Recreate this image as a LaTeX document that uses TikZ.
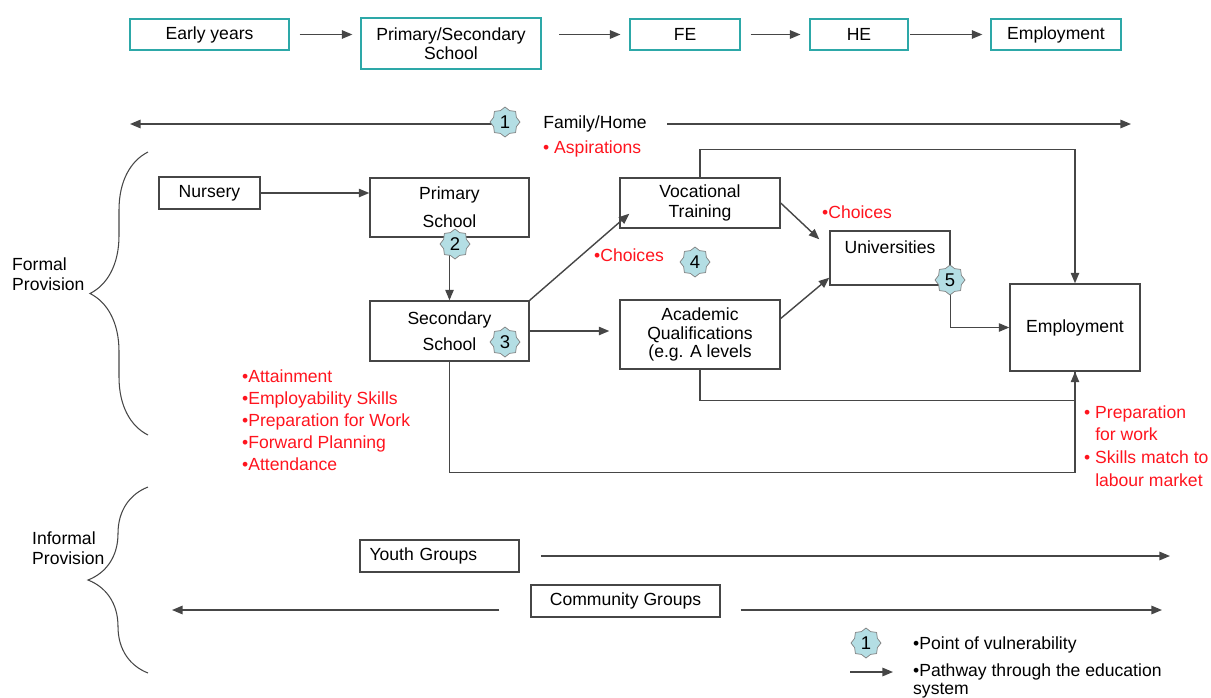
\documentclass[tikz,border=0pt]{standalone}
\usepackage{fontspec}
\setmainfont{Liberation Sans}
\usetikzlibrary{arrows.meta,shapes.geometric,decorations.pathreplacing}
\definecolor{tealbox}{RGB}{45,168,168}
\definecolor{starfill}{RGB}{180,222,228}
\definecolor{linegray}{RGB}{70,70,70}
\definecolor{notered}{RGB}{255,20,30}
\tikzset{
topbox/.style={draw=tealbox, line width=0.8pt, align=center, minimum height=0.62cm, font=\fontsize{10}{11}\selectfont},
box/.style={draw=linegray, line width=0.8pt, align=center, font=\fontsize{10}{11}\selectfont},
arr/.style={draw=linegray, line width=0.8pt, -{Triangle[length=6pt,width=4.8pt]}},
plain/.style={draw=linegray, line width=0.8pt},
vuln/.style={star, star points=8, star point ratio=1.22, draw=gray, fill=starfill, minimum size=0.6cm, inner sep=0pt, font=\fontsize{10.5}{11}\selectfont},
note/.style={text=notered, align=left, font=\fontsize{10}{12.5}\selectfont},
lbl/.style={align=left, font=\fontsize{10}{11.5}\selectfont},
curly/.style={draw=linegray, line width=0.6pt, decorate, decoration={brace, amplitude=#1}}
}

\begin{document}
\begin{tikzpicture}[x=0.02cm, y=-0.02cm]
\useasboundingbox (0,0) rectangle (1211,697);

%top row
\node[topbox, minimum width=3.18cm] (early) at (209.5,34.5) {Early years};
\node[topbox, minimum width=3.6cm, minimum height=1.02cm] (school) at (451,43.5) {Primary/Secondary\\School};
\node[topbox, minimum width=2.2cm] (fe) at (685,34.5) {FE};
\node[topbox, minimum width=1.96cm] (he) at (859,34.5) {HE};
\node[topbox, minimum width=2.6cm] (work) at (1056,34.5) {Employment};
\draw[arr, shorten <=5.7pt, shorten >=4.5pt] (early) -- (early -| school.west);
\draw[arr, shorten <=10pt, shorten >=5pt] (school.east |- fe) -- (fe);
\draw[arr, shorten <=5.7pt, shorten >=5pt] (fe) -- (he);
\draw[arr, shorten <=1pt, shorten >=4.5pt] (he) -- (work);

%family / home
\node[lbl] (family) at (595,124) {Family/Home};
\coordinate (famL) at (130,124);
\coordinate (famR) at (1131,124);
\draw[arr, shorten <=18pt] (family) -- (famL);
\draw[arr, shorten <=8pt] (family) -- (famR);
\node[note, anchor=west] (aspire) at (537,149) {• Aspirations};

%braces
\coordinate (formalB) at (148,435);
\coordinate (formalT) at (148,152);
\draw[curly=1.16cm] (formalB) -- (formalT);
\node[lbl, anchor=west] (formal) at (6,274) {Formal\\Provision};
\coordinate (informalB) at (148,673);
\coordinate (informalT) at (148,487);
\draw[curly=1.2cm] (informalB) -- (informalT);
\node[lbl, anchor=west] (informal) at (26,548.5) {Informal\\Provision};

%formal provision
\node[box, minimum width=2.02cm, minimum height=0.64cm] (nursery) at (209.5,193) {Nursery};
\node[box, minimum width=3.18cm, minimum height=1.18cm] (primary) at (449.5,207.5) {Primary\\[5pt]School};
\node[box, minimum width=3.18cm, minimum height=1.2cm] (secondary) at (449.5,331) {Secondary\\[3.7pt]School};
\node[box, minimum width=3.2cm, minimum height=1cm] (voc) at (700,203) {Vocational\\Training};
\node[box, minimum width=3.2cm, minimum height=1.38cm, font=\fontsize{10}{10.3}\selectfont] (acad) at (700,334.5) {Academic\\Qualifications\\(e.g. A levels};
\node[box, minimum width=2.4cm, minimum height=1.08cm] (uni) at (890,258) {};
\node[lbl] (unitext) at (890,247) {Universities};
\node[box, minimum width=2.6cm, minimum height=1.74cm] (emp) at (1075,327.5) {Employment};

\draw[arr] (nursery) -- (nursery -| primary.west);
\draw[arr] (primary.south) -- (secondary.north);
\draw[arr] (secondary.north east) -- ([shift={(10,-15)}]voc.south west);
\draw[arr, shorten >=5.7pt] (secondary.east) -- (secondary.east -| acad.west);
\draw[arr] (voc.east) -- ([shift={(-10,9)}]uni.north west);
\draw[arr] ([shift={(0,-16)}]acad.east) -- ([shift={(0,-8)}]uni.south west);
\draw[arr] (uni.south east) |- (emp.west);
\draw[arr] (voc.north) -- ++(0,-28) -| (emp.north);
\draw[plain] (acad.south) -- ++(0,31) -| (emp.south);
\draw[arr] (secondary.south) -- ++(0,111) -| (emp.south);

%points of vulnerability
\node[vuln] (s1) at (505,122) {1};
\node[vuln] (s2) at (455,244) {2};
\node[vuln] (s3) at (505,342) {3};
\node[vuln] (s4) at (695,262) {4};
\node[vuln] (s5) at (950,280) {5};

%red notes
\node[note, anchor=west] (skills) at (236,420) {•Attainment\\•Employability Skills\\•Preparation for Work\\•Forward Planning\\•Attendance};
\node[note, anchor=west] (choice1) at (588,255) {•Choices};
\node[note, anchor=west] (choice2) at (816,212) {•Choices};
\node[note, anchor=west, font=\fontsize{10}{12.9}\selectfont] (workprep) at (1078,446) {• Preparation\\\phantom{• }for work\\• Skills match to\\\phantom{• }labour market};

%informal provision
\node[box, minimum width=3.18cm, minimum height=0.64cm, text width=2.8cm, align=left] (youth) at (439.5,556) {Youth Groups};
\coordinate (youthR) at (1170,556);
\draw[arr, shorten <=12pt] (youth) -- (youthR);
\node[box, minimum width=3.78cm, minimum height=0.64cm] (community) at (625.5,601) {Community Groups};
\coordinate (commL) at (172,610);
\coordinate (commR) at (1162,610);
\draw[arr, shorten <=17.6pt] (community.west |- commL) -- (commL);
\draw[arr, shorten <=11.3pt] (community.east |- commR) -- (commR);

%key
\node[vuln] (key1) at (866,643) {1};
\node[lbl, anchor=west] (keytext1) at (907,645) {•Point of vulnerability};
\coordinate (keyA) at (850,672);
\coordinate (keyB) at (893,672);
\draw[arr] (keyA) -- (keyB);
\node[lbl, anchor=west, font=\fontsize{10}{9.8}\selectfont] (keytext2) at (907,681) {•Pathway through the education\\system};
\end{tikzpicture}
\end{document}
